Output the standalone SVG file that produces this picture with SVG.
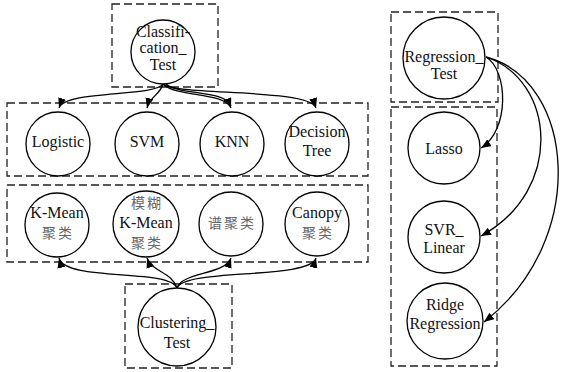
<svg xmlns="http://www.w3.org/2000/svg" width="561" height="372" viewBox="0 0 561 372">
<style>
.box{fill:none;stroke:#222;stroke-width:1.3;stroke-dasharray:8,4}
.node{fill:#fff;stroke:#000;stroke-width:1.3}
.t{font-family:'Liberation Serif','DejaVu Serif',serif;font-size:16px;fill:#111;text-anchor:middle}
.c{font-family:'Noto Sans CJK SC','Liberation Sans',sans-serif;font-size:14px;fill:#666;text-anchor:middle;letter-spacing:2px}
.e{fill:none;stroke:#000;stroke-width:1.3}
</style>
<defs>
<marker id="ah" viewBox="0 0 10 8" refX="10" refY="4" markerWidth="10" markerHeight="8" markerUnits="userSpaceOnUse" orient="auto">
<path d="M0,0 L10,4 L0,8 z" fill="#000"/>
</marker>
</defs>
<g id="groups">
<rect class="box" x="112" y="4" width="106" height="83"/>
<rect class="box" x="7" y="103" width="361" height="73"/>
<rect class="box" x="7" y="185" width="361" height="77"/>
<rect class="box" x="125" y="284" width="107" height="84"/>
<rect class="box" x="391" y="12" width="107" height="90"/>
<rect class="box" x="391" y="107" width="106" height="259"/>
</g>
<g id="connectors">
<path class="e" d="M163,84 C155,97 65,90 59,108" marker-end="url(#ah)"/>
<path class="e" d="M163,84 C160,95 150,96 147,108" marker-end="url(#ah)"/>
<path class="e" d="M163,84 C175,97 225,92 231,108" marker-end="url(#ah)"/>
<path class="e" d="M166,84 C178,95 226,90 231,106"/>
<path class="e" d="M163,84 C175,96 310,88 316,108" marker-end="url(#ah)"/>
<path class="e" d="M177,288 C170,268 65,282 59,258" marker-end="url(#ah)"/>
<path class="e" d="M177,288 C172,272 152,272 147,258" marker-end="url(#ah)"/>
<path class="e" d="M177,288 C182,272 225,275 231,258" marker-end="url(#ah)"/>
<path class="e" d="M177,288 C185,268 310,280 316,258" marker-end="url(#ah)"/>
<path class="e" d="M486,57 C508,70 510,130 481,148" marker-end="url(#ah)"/>
<path class="e" d="M486,57 C555,80 565,190 481,236" marker-end="url(#ah)"/>
<path class="e" d="M486,57 C575,80 590,240 484,322" marker-end="url(#ah)"/>
</g>
<g id="classification"><circle class="node" cx="163" cy="52" r="32"/>
<text class="t" x="163" y="37">Classifi-</text><text class="t" x="163" y="53">cation_</text><text class="t" x="163" y="70">Test</text></g>
<g id="logistic"><circle class="node" cx="58" cy="144" r="32"/><text class="t" x="58" y="147">Logistic</text></g>
<g id="svm"><circle class="node" cx="147" cy="144" r="32"/><text class="t" x="147" y="147">SVM</text></g>
<g id="knn"><circle class="node" cx="232" cy="144" r="32"/><text class="t" x="232" y="147">KNN</text></g>
<g id="decision"><circle class="node" cx="317" cy="144" r="32"/><text class="t" x="317" y="137">Decision</text><text class="t" x="317" y="156">Tree</text></g>
<g id="kmean"><circle class="node" cx="57" cy="225" r="32"/><text class="t" x="57" y="218">K-Mean</text><text class="c" x="58" y="238">聚类</text></g>
<g id="fuzzy"><circle class="node" cx="146" cy="224" r="33"/><text class="c" x="147" y="208">模糊</text><text class="t" x="146" y="228">K-Mean</text><text class="c" x="147" y="248">聚类</text></g>
<g id="spectral"><circle class="node" cx="231" cy="224" r="32"/><text class="c" x="232" y="228">谱聚类</text></g>
<g id="canopy"><circle class="node" cx="317" cy="224" r="32"/><text class="t" x="317" y="218">Canopy</text><text class="c" x="318" y="238">聚类</text></g>
<g id="clustering"><circle class="node" cx="177" cy="327" r="39"/><text class="t" x="177" y="328">Clustering_</text><text class="t" x="177" y="348">Test</text></g>
<g id="regression"><circle class="node" cx="444" cy="58" r="41"/><text class="t" x="444" y="62">Regression_</text><text class="t" x="444" y="79">Test</text></g>
<g id="lasso"><circle class="node" cx="444" cy="148" r="36"/><text class="t" x="444" y="154">Lasso</text></g>
<g id="svr"><circle class="node" cx="444" cy="237" r="36"/><text class="t" x="444" y="235">SVR_</text><text class="t" x="444" y="253">Linear</text></g>
<g id="ridge"><circle class="node" cx="445" cy="321" r="38"/><text class="t" x="445" y="310">Ridge</text><text class="t" x="445" y="329">Regression</text></g>
</svg>
